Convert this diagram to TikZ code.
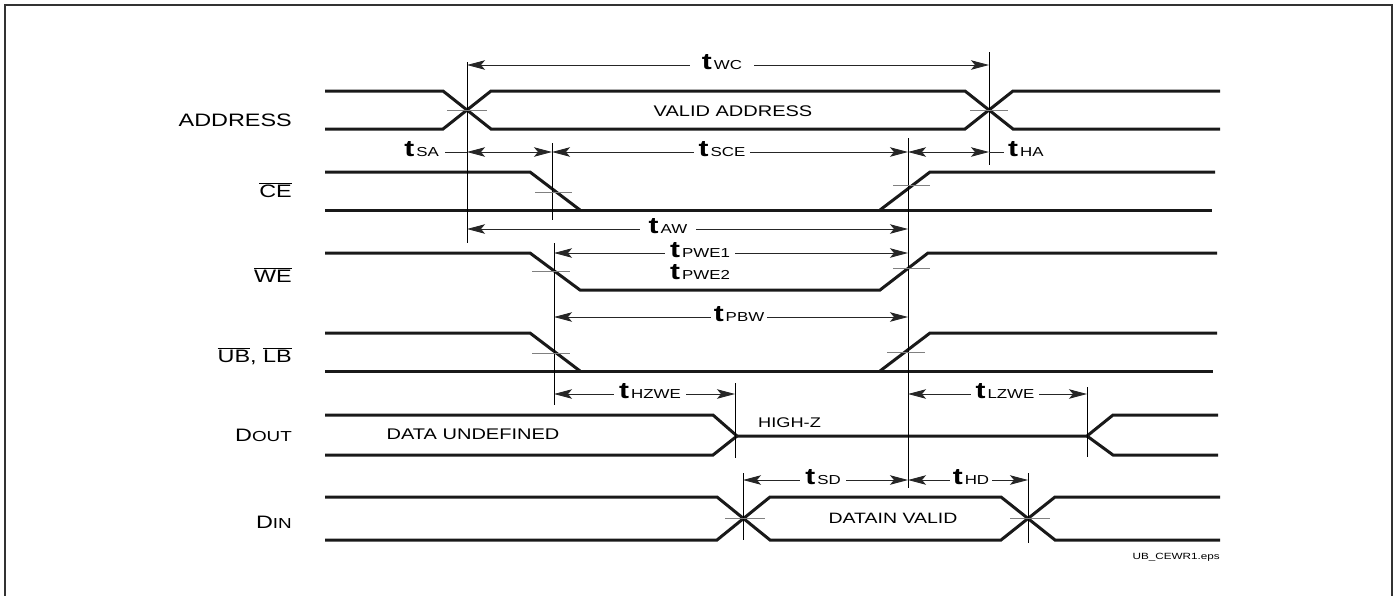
\documentclass[tikz,border=0pt]{standalone}
\usepackage{fontspec}
\setmainfont{Liberation Sans}[FakeStretch=1.3]
\usetikzlibrary{arrows.meta}
\newcommand{\sz}[1]{\fontsize{#1}{#1}\selectfont}
\newcommand{\tlab}[1]{{\sz{23}\bfseries t}\hspace{2pt}{\sz{13}#1}}
\newcommand{\ovl}[1]{$\overline{\hbox{#1}}$}
\begin{document}
\begin{tikzpicture}[x=1pt,y=-1pt,
  sig/.style={line width=3pt, black!90},
  refline/.style={line width=0.9pt, black},
  tickmark/.style={line width=0.9pt, black!50},
  dim/.style={line width=0.9pt, black!85, {Stealth[length=18pt,width=9.5pt,inset=4pt]}-{Stealth[length=18pt,width=9.5pt,inset=4pt]}},
  lead/.style={line width=0.9pt, black!85},
  tl/.style={fill=white, inner xsep=5pt, inner ysep=1pt, anchor=base},
  sname/.style={anchor=base east, inner sep=0pt, font=\sz{18}},
  inlab/.style={anchor=base, inner sep=0pt, font=\sz{15.4}},
]
\useasboundingbox (0,0) rectangle (1397,595);
\draw[line width=2pt, black!80] (5,600) -- (5,5) -- (1392,5) -- (1392,600);

% signal names
\node[sname] (lAddr) at (292,126) {ADDRESS};
\node[sname] (lCE) at (292,197) {\ovl{CE}};
\node[sname] (lWE) at (292,282) {\ovl{WE}};
\node[sname] (lUB) at (292,362) {\ovl{UB}, \ovl{LB}};
\node[sname] (lDout) at (292,441) {D{\sz{14.5}OUT}};
\node[sname] (lDin) at (292,528) {D{\sz{14.5}IN}};

% ADDRESS
\draw[sig] (325,91) -- (443,91) -- (491,129) -- (965,129) -- (1013,91) -- (1220,91);
\draw[sig] (325,129) -- (443,129) -- (491,91) -- (965,91) -- (1013,129) -- (1220,129);
\node[inlab] (va) at (733,116) {VALID ADDRESS};
% CE
\draw[sig] (325,172) -- (530,172) -- (580,210);
\draw[sig] (880,210) -- (930,172) -- (1215,172);
\draw[sig] (325,210) -- (1212,210);
% WE
\draw[sig] (325,253) -- (530,253) -- (580,290) -- (880,290) -- (928,253) -- (1217,253);
% UB LB
\draw[sig] (325,333) -- (530,333) -- (580,371);
\draw[sig] (880,371) -- (930,333) -- (1217,333);
\draw[sig] (325,371) -- (1213,371);
% DOUT
\draw[sig] (325,415) -- (713,415) -- (737,436) -- (1087,436) -- (1113,415) -- (1218,415);
\draw[sig] (325,455) -- (713,455) -- (737,436);
\draw[sig] (1087,436) -- (1113,455) -- (1218,455);
\node[inlab] (du) at (473,439) {DATA UNDEFINED};
\node[anchor=base west, inner sep=0pt, font=\sz{14}] (hz) at (758,427) {HIGH-Z};
% DIN
\draw[sig] (325,497) -- (717,497) -- (770,540) -- (1001,540) -- (1055,497) -- (1220,497);
\draw[sig] (325,540) -- (717,540) -- (770,497) -- (1001,497) -- (1055,540) -- (1220,540);
\node[inlab, font=\sz{15}] (dv) at (893,523) {DATAIN VALID};

% reference lines
\draw[refline] (467,62) -- (467,243);
\draw[refline] (989,52) -- (989,165);
\draw[refline] (552,143) -- (552,220);
\draw[refline] (554,243) -- (554,405);
\draw[refline] (908,138) -- (908,488);
\draw[refline] (735,383) -- (735,458);
\draw[refline] (1087,387) -- (1087,457);
\draw[refline] (743,473) -- (743,540);
\draw[refline] (1028,473) -- (1028,543);

% ticks
\draw[tickmark] (447,110) -- (487,110);
\draw[tickmark] (970,110) -- (1008,110);
\draw[tickmark] (535,192) -- (572,192);
\draw[tickmark] (893,185) -- (930,185);
\draw[tickmark] (532,271) -- (570,271);
\draw[tickmark] (893,268) -- (930,268);
\draw[tickmark] (532,353) -- (570,353);
\draw[tickmark] (887,352) -- (925,352);
\draw[tickmark] (725,518) -- (765,518);
\draw[tickmark] (1010,518) -- (1050,518);

% dimensions
\draw[dim] (467,65) -- (989,65);
\node[tl, inner xsep=12pt] (twc) at (722,69.6) {\tlab{WC}};

\draw[lead] (445,152) -- (467,152);
\draw[dim] (467,152) -- (552,152);
\node[anchor=base east, inner sep=0pt] (tsa) at (439,156.6) {\tlab{SA}};
\draw[dim] (552,152) -- (908,152);
\node[tl] (tsce) at (722,156.6) {\tlab{SCE}};
\draw[dim] (908,152) -- (989,152);
\draw[lead] (989,152) -- (1004,152);
\node[anchor=base west, inner sep=0pt] (tha) at (1008,156.6) {\tlab{HA}};

\draw[dim] (467,229) -- (908,229);
\node[tl, inner xsep=9pt] (taw) at (668,233.6) {\tlab{AW}};

\draw[dim] (554,253) -- (908,253);
\node[tl] (tpwe1) at (700,257.6) {\tlab{PWE1}};
\node[anchor=base, inner sep=0pt] (tpwe2) at (700,279) {\tlab{PWE2}};

\draw[dim] (554,317) -- (908,317);
\node[tl, inner xsep=3pt] (tpbw) at (739,321.6) {\tlab{PBW}};

\draw[dim] (554,394) -- (735,394);
\node[tl] (thzwe) at (650,398.6) {\tlab{HZWE}};
\draw[dim] (908,394) -- (1087,394);
\node[tl] (tlzwe) at (1005,398.6) {\tlab{LZWE}};

\draw[dim] (743,480) -- (908,480);
\node[tl] (tsd) at (823,484.6) {\tlab{SD}};
\draw[dim] (908,480) -- (1028,480);
\node[tl, inner xsep=3pt] (thd) at (971,484.6) {\tlab{HD}};

\node[anchor=base east, inner sep=0pt, font=\sz{9}] (eps) at (1220,559) {UB\_CEWR1.eps};
\end{tikzpicture}
\end{document}
